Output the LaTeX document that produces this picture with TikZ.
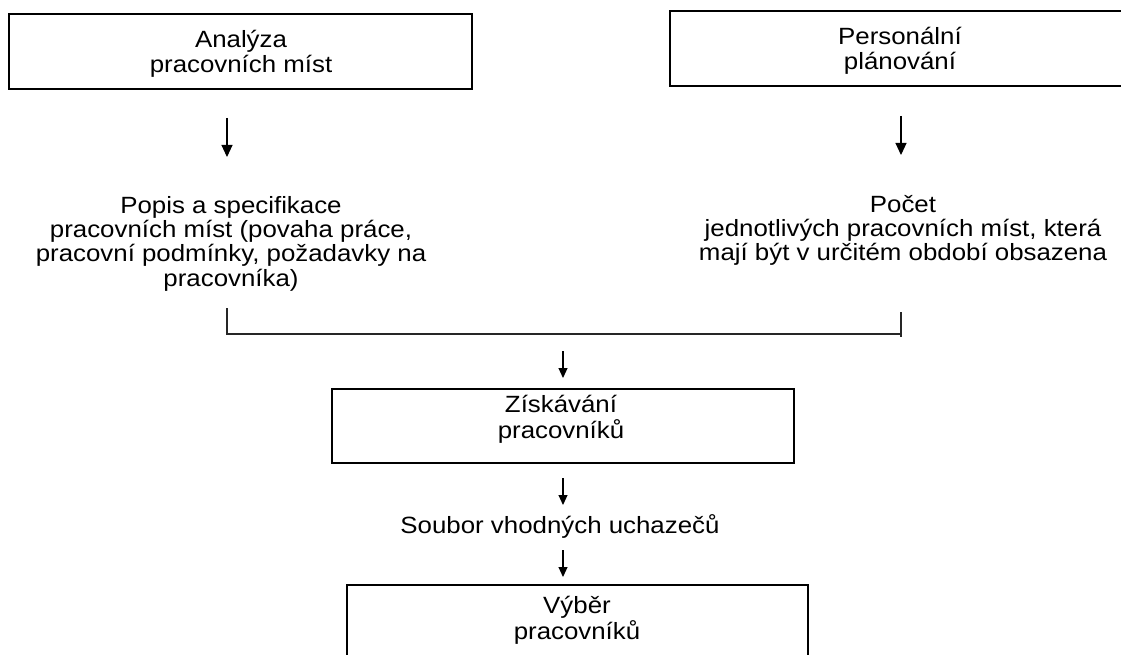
\documentclass[tikz,border=0pt]{standalone}
\usepackage{fontspec}
\setmainfont{Liberation Sans}[FakeStretch=1.1]
\usetikzlibrary{arrows.meta}
\begin{document}
\begin{tikzpicture}[x=1pt,y=-1pt,
  boxstyle/.style={draw=black, line width=1.5pt, inner sep=0pt, rectangle},
  lbl/.style={anchor=base, inner sep=0pt, font=\fontsize{23.5}{23.8}\selectfont},
  bigarr/.style={line width=1.1pt, -{Triangle[length=12pt,width=11pt]}},
  smallarr/.style={line width=1.1pt, -{Triangle[length=10pt,width=9pt]}},
  conn/.style={line width=1.2pt, draw=black!85}]
\useasboundingbox (0,0) rectangle (1121,655);
\clip (0,0) rectangle (1121,655);
\fill[white] (0,0) rectangle (1121,655);

% boxes
\node[boxstyle, minimum width=463pt, minimum height=75pt] (b1) at (240.5,51.5) {};
\node[boxstyle, minimum width=460pt, minimum height=75pt] (b2) at (900,48.5) {};
\node[boxstyle, minimum width=462pt, minimum height=74pt] (b3) at (563,426) {};
\node[boxstyle, minimum width=461pt, minimum height=80pt] (b4) at (577.5,625) {};

% texts
\node[lbl] (t1) at (241,48) {\begin{tabular}[t]{@{}c@{}}Analýza\\pracovních míst\end{tabular}};
\node[lbl] (t2) at (900,45) {\begin{tabular}[t]{@{}c@{}}Personální\\plánování\end{tabular}};
\node[lbl] (t3) at (231,213) {\begin{tabular}[t]{@{}c@{}}Popis a specifikace\\pracovních míst (povaha práce,\\pracovní podmínky, požadavky na\\pracovníka)\end{tabular}};
\node[lbl] (t4) at (903,212) {\begin{tabular}[t]{@{}c@{}}Počet\\jednotlivých pracovních míst, která\\mají být v určitém období obsazena\end{tabular}};
\node[lbl] (t5) at (561,412) {\begin{tabular}[t]{@{}c@{}}Získávání\\pracovníků\end{tabular}};
\node[lbl] (t6) at (560,533) {Soubor vhodných uchazečů};
\node[lbl] (t7) at (577,613) {\begin{tabular}[t]{@{}c@{}}Výběr\\pracovníků\end{tabular}};

% arrows
\coordinate (a1s) at (227,118); \coordinate (a1e) at (227,157);
\coordinate (a2s) at (901,116); \coordinate (a2e) at (901,155);
\coordinate (a3s) at (563,351); \coordinate (a3e) at (563,378);
\coordinate (a4s) at (563,478); \coordinate (a4e) at (563,505);
\coordinate (a5s) at (563,550); \coordinate (a5e) at (563,577);
\draw[bigarr] (a1s) -- (a1e);
\draw[bigarr] (a2s) -- (a2e);
\draw[smallarr] (a3s) -- (a3e);
\draw[smallarr] (a4s) -- (a4e);
\draw[smallarr] (a5s) -- (a5e);

% joining bracket
\coordinate (c1) at (227,308);
\coordinate (c2) at (901,334);
\coordinate (c3) at (901,312);
\coordinate (c4) at (901,337);
\draw[conn] (c1) |- (c2);
\draw[conn] (c3) -- (c4);
\end{tikzpicture}
\end{document}
